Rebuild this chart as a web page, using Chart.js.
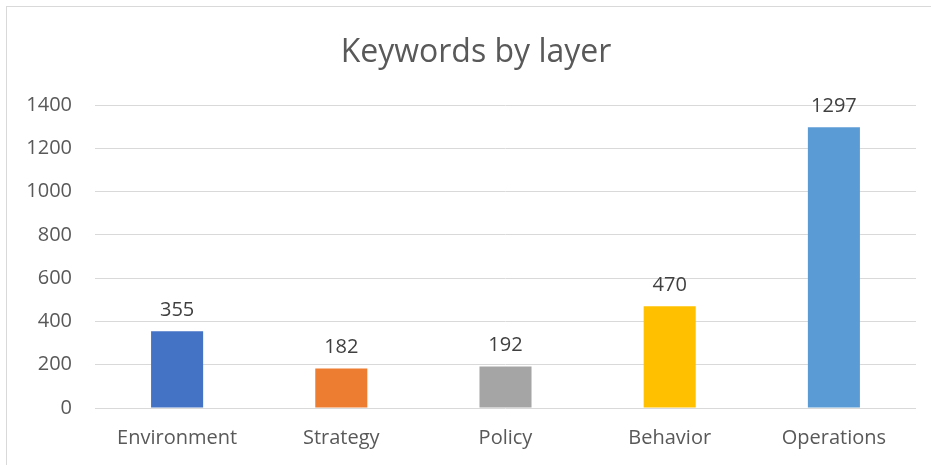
<!DOCTYPE html>
<html>
<head>
<meta charset="utf-8">
<script src="https://cdn.jsdelivr.net/npm/chart.js@4"></script>
<style>
    html, body { margin: 0; padding: 0; background: #fff; overflow: hidden; }
    #frame {
        position: absolute; left: 6px; top: 6px;
        width: 1000px; height: 1000px;
        border: 1px solid #d9d9d9;
    }
    #wrap { position: absolute; left: 0; top: 0; width: 931px; height: 465px; }
</style>
</head>
<body>
<div id="frame"></div>
<div id="wrap"><canvas id="chart"></canvas></div>
<script>
// Chart data
const categories = ['Environment', 'Strategy', 'Policy', 'Behavior', 'Operations'];
const keywordCounts = [355, 182, 192, 470, 1297];
const barColors = ['#4472C4', '#ED7D31', '#A5A5A5', '#FFC000', '#5B9BD5'];
const yTicks = [0, 200, 400, 600, 800, 1000, 1200, 1400];
const chartTitle = 'Keywords by layer';

const FONT = "'Open Sans', 'Noto Sans', sans-serif";

// Value labels above each bar + title centred on the outer frame
const valueLabels = {
    id: 'valueLabels',
    afterDatasetsDraw(chart) {
        const ctx = chart.ctx;
        const meta = chart.getDatasetMeta(0);
        ctx.save();
        ctx.font = '20px ' + FONT;
        ctx.fillStyle = '#404040';
        ctx.textAlign = 'center';
        ctx.textBaseline = 'middle';
        meta.data.forEach((bar, i) => {
            ctx.fillText(String(keywordCounts[i]), bar.x, bar.y - 21);
        });
        ctx.font = '32px ' + FONT;
        ctx.fillStyle = '#595959';
        ctx.fillText(chartTitle, 476, 53);
        ctx.restore();
    }
};

new Chart(document.getElementById('chart'), {
    type: 'bar',
    data: {
        labels: categories,
        datasets: [{
            data: keywordCounts,
            backgroundColor: barColors,
            borderWidth: 0,
            categoryPercentage: 1,
            barPercentage: 0.317
        }]
    },
    options: {
        responsive: true,
        maintainAspectRatio: false,
        animation: false,
        layout: { padding: { left: 0, right: 15, top: 105, bottom: 0 } },
        plugins: {
            legend: { display: false },
            tooltip: { enabled: false },
            title: { display: false }
        },
        scales: {
            y: {
                min: 0,
                max: 1400,
                afterFit(scale) { scale.width = 95; },
                afterBuildTicks(scale) { scale.ticks = yTicks.map(v => ({ value: v })); },
                ticks: {
                    color: '#595959',
                    font: { family: FONT, size: 20 },
                    padding: 23,
                    callback: v => String(v)
                },
                grid: { color: '#d9d9d9', lineWidth: 1, drawTicks: false },
                border: { display: false }
            },
            x: {
                afterFit(scale) { scale.height = 57; },
                ticks: {
                    color: '#595959',
                    font: { family: FONT, size: 20 },
                    padding: 18
                },
                grid: { display: false, drawTicks: false },
                border: { display: false }
            }
        }
    },
    plugins: [valueLabels]
});
</script>
</body>
</html>
